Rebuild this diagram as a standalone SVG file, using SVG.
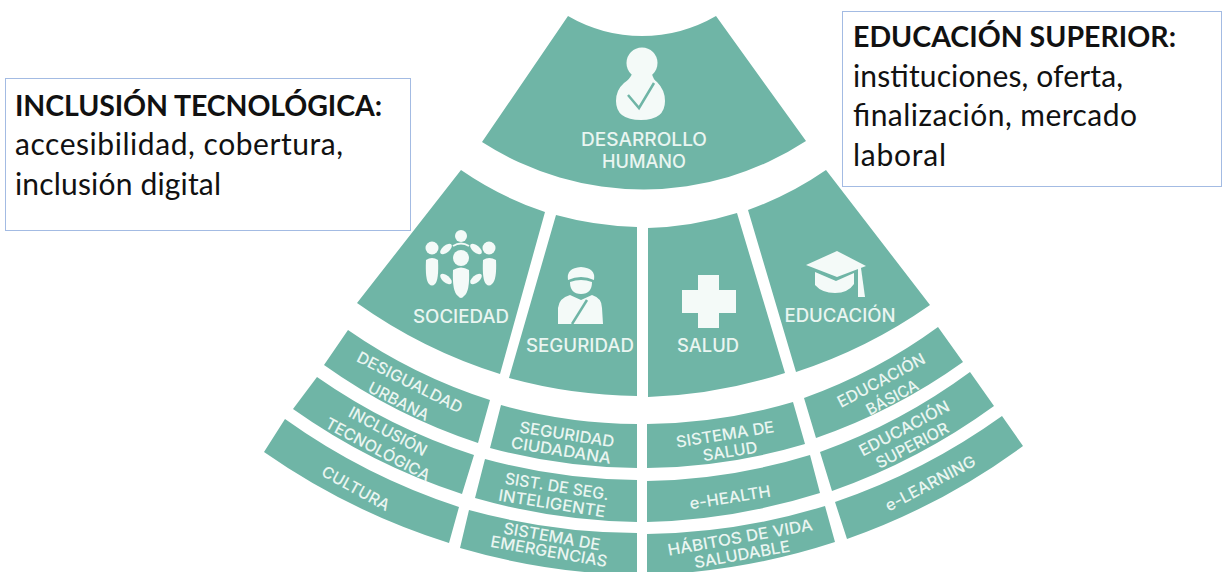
<svg xmlns="http://www.w3.org/2000/svg" width="1222" height="572" viewBox="0 0 1222 572">
<style>
.c{fill:#6fb5a6}
.w{fill:#f4faf8}
.t{fill:#eaf5f1;font-family:"Inter","Liberation Sans",sans-serif;font-weight:500;text-anchor:middle;dominant-baseline:central}
.s{font-size:16px}
.h{font-size:18px}
.box{fill:#fff;stroke:#a3bbe3;stroke-width:1}
.b{font-family:"Lato","Liberation Sans",sans-serif;font-size:30px;fill:#111}
.bb{font-weight:700;font-size:28.5px}
</style>
<rect width="1222" height="572" fill="#fff"/>
<g id="desarrollo-humano">
<path class="c" d="M568 16A147 147 0 0 0 716 16L806 141A298 298 0 0 1 482 142Z"/>
<circle class="w" cx="642" cy="63" r="15.500"/>
<path class="w" d="M632 74H652Q653 79 657 82Q665 90 665 101Q665 120 641 120Q616 120 616 101Q616 90 624 83Q630 79 632 74Z"/>
<path d="M628 95L639 108L654 83" fill="none" stroke="#6fb5a6" stroke-width="2.5"/>
<text class="t h" x="644" y="139" textLength="126" lengthAdjust="spacingAndGlyphs">DESARROLLO</text>
<text class="t h" x="644" y="161" textLength="84" lengthAdjust="spacingAndGlyphs">HUMANO</text>
</g>
<g id="sociedad">
<path class="c" d="M461 170A335 335 0 0 0 545 212L500 374A505 505 0 0 1 357 303Z"/>
<circle class="w" cx="461" cy="236" r="6"/>
<circle class="w" cx="432" cy="248" r="6.500"/>
<circle class="w" cx="489" cy="248" r="6.500"/>
<circle class="w" cx="461" cy="258" r="8"/>
<path class="w" d="M453 270Q461 265 469 270Q470 292 464 296Q461 300 458 296Q452 292 453 270Z"/>
<path class="w" d="M426 260Q432 256 438 260Q439 280 435 284Q432 287 429 284Q425 280 426 260Z"/>
<path class="w" d="M483 260Q489 256 496 260Q497 280 492 284Q489 287 486 284Q482 280 483 260Z"/>
<ellipse class="w" cx="446" cy="249" rx="7" ry="3.500" transform="rotate(-40 446 249)"/>
<ellipse class="w" cx="476" cy="249" rx="7" ry="3.500" transform="rotate(40 476 249)"/>
<ellipse class="w" cx="446" cy="279" rx="7" ry="3.500" transform="rotate(40 446 279)"/>
<ellipse class="w" cx="476" cy="279" rx="7" ry="3.500" transform="rotate(-40 476 279)"/>
<path d="M453 246Q461 241 469 246" fill="none" stroke="#f4faf8" stroke-width="2"/>
<text class="t h" x="461" y="316" textLength="96" lengthAdjust="spacingAndGlyphs">SOCIEDAD</text>
</g>
<g id="seguridad">
<path class="c" d="M556 215A335 335 0 0 0 637 227L637 396A505 505 0 0 1 509 378Z"/>
<path class="w" d="M568 280Q566 268 581 267Q596 268 594 280Q581 274 568 280Z"/>
<path class="w" d="M570 282Q581 278 592 282Q592 294 581 294Q570 294 570 282Z"/>
<path class="w" d="M558 324L558 308Q559 298 570 295L581 300L592 295Q602 298 602 308L603 324Z"/>
<path d="M572 324L587 300" stroke="#6fb5a6" stroke-width="2.500" fill="none"/>
<text class="t h" x="580" y="345" textLength="108" lengthAdjust="spacingAndGlyphs">SEGURIDAD</text>
</g>
<g id="salud">
<path class="c" d="M648 228A335 335 0 0 0 737 213L785 373A505 505 0 0 1 648 397Z"/>
<path class="w" d="M698 275H719V290H736V313H719V328H698V313H682V290H698Z"/>
<text class="t h" x="708" y="345" textLength="62" lengthAdjust="spacingAndGlyphs">SALUD</text>
</g>
<g id="educacion">
<path class="c" d="M748 210A335 335 0 0 0 826 170L930 305A505 505 0 0 1 796 372Z"/>
<path class="w" d="M806 265L837 251L866 266L837 277Z"/>
<path class="w" d="M815 272L836 281L854 273L854 284Q848 293 835 293Q822 293 815 285Z"/>
<path class="w" d="M858 268L861 268L865 297L858 297Z"/>
<text class="t h" x="840" y="315" textLength="111" lengthAdjust="spacingAndGlyphs">EDUCACIÓN</text>
</g>
<g id="desigualdad-urbana">
<path class="c" d="M348 330A530 530 0 0 0 490 400L478 443A575 575 0 0 1 324 365Z"/>
<text class="t s" transform="translate(410 382) rotate(27)" textLength="116" lengthAdjust="spacingAndGlyphs">DESIGUALDAD</text>
<text class="t s" transform="translate(399 401) rotate(27)" textLength="66" lengthAdjust="spacingAndGlyphs">URBANA</text>
</g>
<g id="inclusion-tecnologica">
<path class="c" d="M317 377A588 588 0 0 0 474 455L462 494A628 628 0 0 1 293 409Z"/>
<text class="t s" transform="translate(388 431) rotate(28)" textLength="86" lengthAdjust="spacingAndGlyphs">INCLUSIÓN</text>
<text class="t s" transform="translate(378 449) rotate(28)" textLength="116" lengthAdjust="spacingAndGlyphs">TECNOLÓGICA</text>
</g>
<g id="cultura">
<path class="c" d="M285 419A640 640 0 0 0 459 507L449 543A675 675 0 0 1 264 452Z"/>
<text class="t s" transform="translate(356 488) rotate(29)" textLength="75" lengthAdjust="spacingAndGlyphs">CULTURA</text>
</g>
<g id="seguridad-ciudadana">
<path class="c" d="M501 405A530 530 0 0 0 637 424L637 468A575 575 0 0 1 490 448Z"/>
<text class="t s" transform="translate(567 434) rotate(9)" textLength="96" lengthAdjust="spacingAndGlyphs">SEGURIDAD</text>
<text class="t s" transform="translate(561 450) rotate(9)" textLength="101" lengthAdjust="spacingAndGlyphs">CIUDADANA</text>
</g>
<g id="sist-seg-inteligente">
<path class="c" d="M485 459A588 588 0 0 0 637 480L637 522A628 628 0 0 1 475 498Z"/>
<text class="t s" transform="translate(557 486) rotate(9)" textLength="105" lengthAdjust="spacingAndGlyphs">SIST. DE SEG.</text>
<text class="t s" transform="translate(552 503) rotate(9)" textLength="108" lengthAdjust="spacingAndGlyphs">INTELIGENTE</text>
</g>
<g id="sistema-emergencias">
<path class="c" d="M469 510A640 640 0 0 0 637 533L637 575A675 675 0 0 1 460 548Z"/>
<text class="t s" transform="translate(552 536) rotate(10)" textLength="98" lengthAdjust="spacingAndGlyphs">SISTEMA DE</text>
<text class="t s" transform="translate(549 551) rotate(10)" textLength="118" lengthAdjust="spacingAndGlyphs">EMERGENCIAS</text>
</g>
<g id="sistema-salud">
<path class="c" d="M647 424A530 530 0 0 0 793 402L805 444A575 575 0 0 1 647 468Z"/>
<text class="t s" transform="translate(725 434) rotate(-9)" textLength="99" lengthAdjust="spacingAndGlyphs">SISTEMA DE</text>
<text class="t s" transform="translate(730 451) rotate(-9)" textLength="55" lengthAdjust="spacingAndGlyphs">SALUD</text>
</g>
<g id="e-health">
<path class="c" d="M647 481A588 588 0 0 0 810 455L820 493A628 628 0 0 1 647 522Z"/>
<text class="t s" transform="translate(730 497) rotate(-9)" textLength="82" lengthAdjust="spacingAndGlyphs">e-HEALTH</text>
</g>
<g id="habitos-vida-saludable">
<path class="c" d="M647 534A640 640 0 0 0 825 506L835 542A675 675 0 0 1 647 575Z"/>
<text class="t s" transform="translate(740 537) rotate(-10)" textLength="147" lengthAdjust="spacingAndGlyphs">HÁBITOS DE VIDA</text>
<text class="t s" transform="translate(742 554) rotate(-10)" textLength="97" lengthAdjust="spacingAndGlyphs">SALUDABLE</text>
</g>
<g id="educacion-basica">
<path class="c" d="M804 398A530 530 0 0 0 938 327L963 362A575 575 0 0 1 816 438Z"/>
<text class="t s" transform="translate(881 380) rotate(-28)" textLength="97" lengthAdjust="spacingAndGlyphs">EDUCACIÓN</text>
<text class="t s" transform="translate(892 397) rotate(-28)" textLength="57" lengthAdjust="spacingAndGlyphs">BÁSICA</text>
</g>
<g id="educacion-superior">
<path class="c" d="M820 452A588 588 0 0 0 970 372L994 406A628 628 0 0 1 832 491Z"/>
<text class="t s" transform="translate(904 428) rotate(-28)" textLength="100" lengthAdjust="spacingAndGlyphs">EDUCACIÓN</text>
<text class="t s" transform="translate(912 445) rotate(-28)" textLength="80" lengthAdjust="spacingAndGlyphs">SUPERIOR</text>
</g>
<g id="e-learning">
<path class="c" d="M835 502A640 640 0 0 0 1002 416L1023 446A675 675 0 0 1 847 539Z"/>
<text class="t s" transform="translate(930 483) rotate(-28)" textLength="100" lengthAdjust="spacingAndGlyphs">e-LEARNING</text>
</g>
<g id="caja-inclusion">
<rect class="box" x="5.500" y="78.500" width="405" height="152"/>
<text class="b bb" x="15" y="116" textLength="367">INCLUSIÓN TECNOLÓGICA:</text>
<text class="b" x="15" y="155" textLength="328">accesibilidad, cobertura,</text>
<text class="b" x="15" y="195" textLength="206">inclusión digital</text>
</g>
<g id="caja-educacion">
<rect class="box" x="842.500" y="11.500" width="379" height="175"/>
<text class="b bb" x="853" y="47" textLength="323">EDUCACIÓN SUPERIOR:</text>
<text class="b" x="853" y="87" textLength="270">instituciones, oferta,</text>
<text class="b" x="853" y="126" textLength="284">finalización, mercado</text>
<text class="b" x="853" y="166" textLength="93">laboral</text>
</g>
</svg>
